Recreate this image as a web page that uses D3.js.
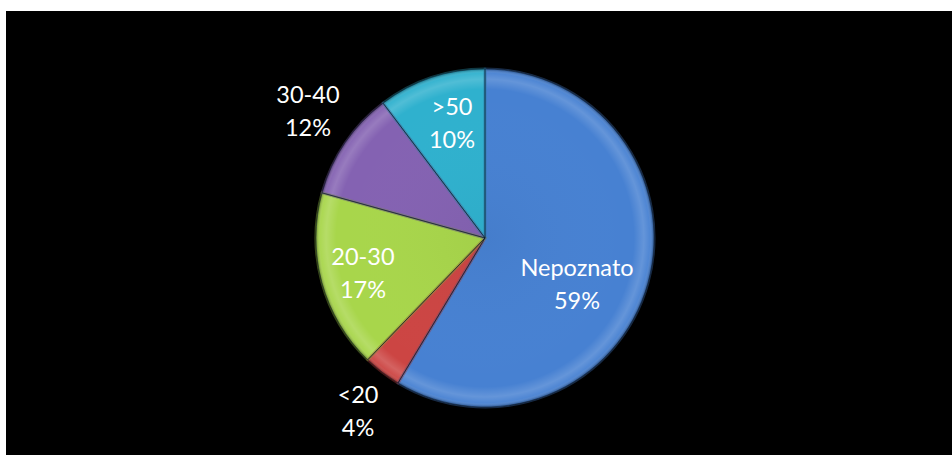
<!DOCTYPE html>
<html>
<head>
<meta charset="utf-8">
<script src="https://cdn.jsdelivr.net/npm/d3@7"></script>
<style>
  html, body { margin: 0; padding: 0; background: #ffffff; }
  svg { display: block; }
</style>
</head>
<body>
<svg id="chart" width="952" height="455"></svg>
<script>
// Data (slice shares; label percentages as printed)
const categories = ["Nepoznato", "<20", "20-30", "30-40", ">50"];
const values = [58.6, 3.6, 17.1, 10.4, 10.3];
const pctLabels = ["59%", "4%", "17%", "12%", "10%"];
const colors = ["#4781D2", "#CC4543", "#A8D64B", "#8462B2", "#2FB1CE"];

const W = 952, H = 455;
const svg = d3.select("#chart");

// Black plot area
svg.append("rect").attr("x", 6).attr("y", 11).attr("width", W - 6).attr("height", H - 11).attr("fill", "#000");

const cx = 485, cy = 238, R = 169;

const pie = d3.pie().sort(null).value(d => d.v).startAngle(0).endAngle(2 * Math.PI);
const data = categories.map((c, i) => ({ c, v: values[i], p: pctLabels[i], col: colors[i] }));
const arcs = pie(data);
const arc = d3.arc().innerRadius(0).outerRadius(R);

const defs = svg.append("defs");
// Bevel overlay gradient (local coordinates of the pie group)
const g1 = defs.append("radialGradient").attr("id", "bevel")
  .attr("gradientUnits", "userSpaceOnUse").attr("cx", 0).attr("cy", 0).attr("r", R);
g1.append("stop").attr("offset", "0%").attr("stop-color", "#000").attr("stop-opacity", 0.03);
g1.append("stop").attr("offset", "88%").attr("stop-color", "#fff").attr("stop-opacity", 0.0);
g1.append("stop").attr("offset", "94%").attr("stop-color", "#fff").attr("stop-opacity", 0.16);
g1.append("stop").attr("offset", "97.5%").attr("stop-color", "#fff").attr("stop-opacity", 0.05);
g1.append("stop").attr("offset", "100%").attr("stop-color", "#000").attr("stop-opacity", 0.3);

const g = svg.append("g").attr("transform", `translate(${cx},${cy})`);

g.selectAll("path.slice").data(arcs).join("path")
  .attr("class", "slice")
  .attr("d", arc)
  .attr("fill", d => d.data.col);

g.selectAll("path.bev").data(arcs).join("path")
  .attr("class", "bev")
  .attr("d", arc)
  .attr("fill", "url(#bevel)");

// inner bevel shading along slice edges
g.selectAll("path.edge").data(arcs).join("path")
  .attr("class", "edge")
  .attr("d", arc)
  .attr("fill", "none")
  .attr("stroke", d => d3.color(d.data.col).darker(0.5))
  .attr("stroke-opacity", 0.4)
  .attr("stroke-width", 3)
  .attr("stroke-linejoin", "round");

g.selectAll("path.line").data(arcs).join("path")
  .attr("class", "line")
  .attr("d", arc)
  .attr("fill", "none")
  .attr("stroke", "#0b1a2a")
  .attr("stroke-opacity", 0.6)
  .attr("stroke-width", 0.8);

// Labels (positions in page coords)
const labelPos = [[577, 268], [358, 395], [363, 257], [308, 95], [452, 107]];
const lg = svg.append("g")
  .attr("font-family", "Lato, 'Open Sans', sans-serif")
  .attr("font-size", 23.5)
  .attr("fill", "#fff")
  .attr("text-anchor", "middle");
data.forEach((d, i) => {
  const [x, y] = labelPos[i];
  lg.append("text").attr("x", x).attr("y", y).attr("dy", "0.36em").text(d.c);
  lg.append("text").attr("x", x).attr("y", y + 33).attr("dy", "0.36em").text(d.p);
});
</script>
</body>
</html>
